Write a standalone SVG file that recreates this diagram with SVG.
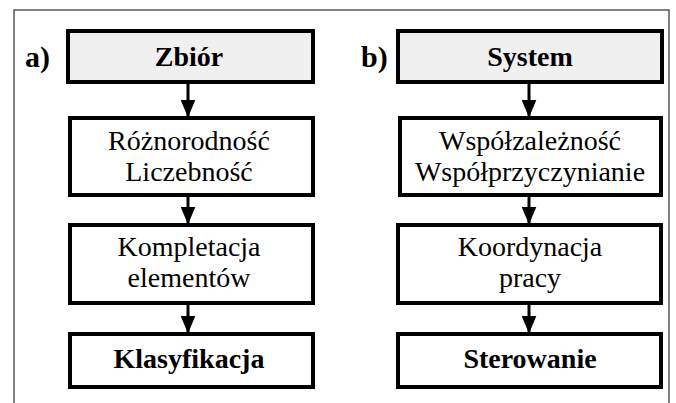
<svg xmlns="http://www.w3.org/2000/svg" width="676" height="403" viewBox="0 0 676 403">
  <style>
    .frame { fill: none; stroke: #555; stroke-width: 1.5; }
    .box { fill: #fff; stroke: #000; stroke-width: 4; }
    .head { fill: #f0f0f0; stroke: #000; stroke-width: 4; }
    .edge { stroke: #000; stroke-width: 3; fill: none; marker-end: url(#arr); }
  </style>
  <defs>
    <marker id="arr" markerWidth="6" markerHeight="5" refX="5.5" refY="2.5" orient="auto" markerUnits="strokeWidth">
      <path d="M0,0 L6,2.5 L0,5 Z" fill="#000"/>
    </marker>
  </defs>

  <rect width="676" height="403" fill="#fff"/>
  <!-- outer frame, open at the bottom -->
  <path class="frame" d="M14,403 V10 H669 V403"/>

  <text style="font-family:'Liberation Serif',serif;font-size:30px;font-weight:bold" x="25" y="67">a)</text>
  <text style="font-family:'Liberation Serif',serif;font-size:30px;font-weight:bold" x="361" y="67">b)</text>

  <g id="connectors">
    <line class="edge" x1="188" y1="82" x2="188" y2="116"/>
    <line class="edge" x1="188" y1="195" x2="188" y2="223"/>
    <line class="edge" x1="188" y1="303" x2="188" y2="332"/>
    <line class="edge" x1="529" y1="82" x2="529" y2="116"/>
    <line class="edge" x1="529" y1="195" x2="529" y2="223"/>
    <line class="edge" x1="529" y1="303" x2="529" y2="332"/>
  </g>

  <g id="zbior">
    <rect class="head" x="68" y="31" width="245" height="51"/>
    <text style="font-family:'Liberation Serif',serif;font-size:28px;font-weight:bold" text-anchor="middle" x="189" y="66">Zbiór</text>
  </g>
  <g id="roznorodnosc">
    <rect class="box" x="70" y="118" width="243" height="77"/>
    <text style="font-family:'Liberation Serif',serif;font-size:28px" text-anchor="middle" x="189" y="150">Różnorodność</text>
    <text style="font-family:'Liberation Serif',serif;font-size:28px" text-anchor="middle" x="189" y="181">Liczebność</text>
  </g>
  <g id="kompletacja">
    <rect class="box" x="70" y="225" width="243" height="78"/>
    <text style="font-family:'Liberation Serif',serif;font-size:28px" text-anchor="middle" x="189" y="256">Kompletacja</text>
    <text style="font-family:'Liberation Serif',serif;font-size:28px" text-anchor="middle" x="189" y="287">elementów</text>
  </g>
  <g id="klasyfikacja">
    <rect class="box" x="70" y="334" width="243" height="53"/>
    <text style="font-family:'Liberation Serif',serif;font-size:28px;font-weight:bold" text-anchor="middle" x="189" y="368">Klasyfikacja</text>
  </g>

  <g id="system">
    <rect class="head" x="398" y="31" width="264" height="51"/>
    <text style="font-family:'Liberation Serif',serif;font-size:28px;font-weight:bold" text-anchor="middle" x="530" y="66">System</text>
  </g>
  <g id="wspolzaleznosc">
    <rect class="box" x="400" y="118" width="261" height="77"/>
    <text style="font-family:'Liberation Serif',serif;font-size:28px" text-anchor="middle" x="530" y="150">Współzależność</text>
    <text style="font-family:'Liberation Serif',serif;font-size:28px" text-anchor="middle" x="530" y="181">Współprzyczynianie</text>
  </g>
  <g id="koordynacja">
    <rect class="box" x="398" y="225" width="263" height="78"/>
    <text style="font-family:'Liberation Serif',serif;font-size:28px" text-anchor="middle" x="530" y="256">Koordynacja</text>
    <text style="font-family:'Liberation Serif',serif;font-size:28px" text-anchor="middle" x="530" y="287">pracy</text>
  </g>
  <g id="sterowanie">
    <rect class="box" x="398" y="334" width="263" height="53"/>
    <text style="font-family:'Liberation Serif',serif;font-size:28px;font-weight:bold" text-anchor="middle" x="530" y="368">Sterowanie</text>
  </g>
</svg>
